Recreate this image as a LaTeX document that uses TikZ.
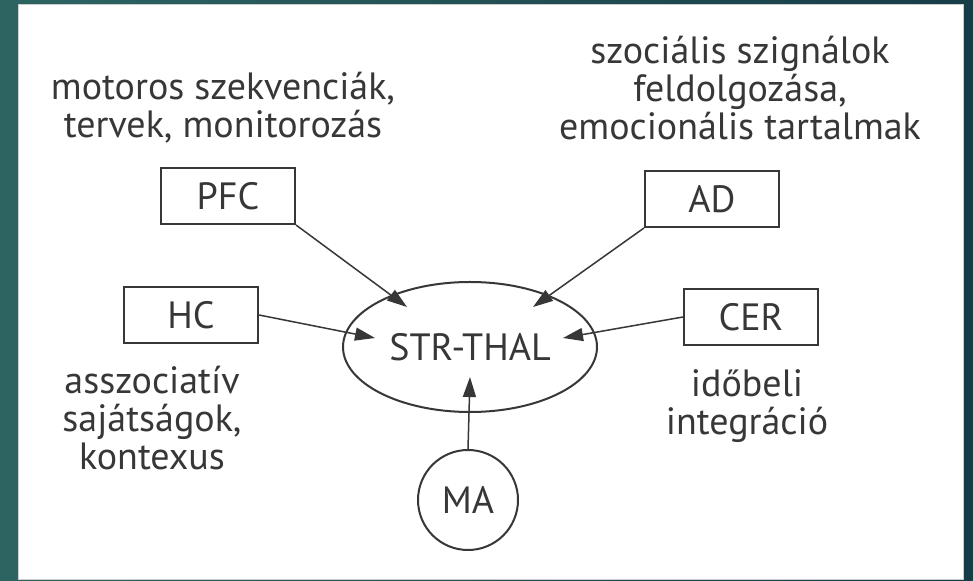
\documentclass[tikz,border=0pt]{standalone}
\usepackage{fontspec}
\setmainfont{PT Sans}
\usetikzlibrary{shapes,arrows.meta,positioning,calc}
\definecolor{bgleft}{RGB}{45,100,98}
\definecolor{bgright}{RGB}{22,60,72}
\definecolor{ink}{RGB}{55,55,55}

\begin{document}
\begin{tikzpicture}[x=0.5pt,y=-0.5pt,
    box/.style={draw=ink, line width=1pt, minimum width=67pt, minimum height=28pt, inner sep=0pt, text=ink, font=\fontsize{19}{19}\selectfont},
    note/.style={align=center, inner sep=0pt, text=ink, font=\fontsize{19}{19}\selectfont},
    arr/.style={draw=ink, line width=0.75pt, -{Triangle[length=10pt,width=6.5pt]}}]
    \useasboundingbox (0,0) rectangle (973,581);
    % background and white panel
    \fill[left color=bgleft, right color=bgright] (0,0) rectangle (973,581);
    \draw[fill=white, draw=black!20] (18,4) rectangle (963,579);
    % centre
    \node[draw=ink, line width=1pt, ellipse, minimum width=127pt, minimum height=65pt, inner sep=0pt, text=ink, font=\fontsize{19}{19}\selectfont] (str) at (470,347) {STR-THAL};
    % inputs
    \node[box] (pfc) at (228,196) {PFC};
    \node[box] (ad) at (712,199) {AD};
    \node[box] (hc) at (191,315) {HC};
    \node[box] (cer) at (751,317) {CER};
    \node[draw=ink, line width=1pt, circle, minimum size=50pt, inner sep=0pt, text=ink, font=\fontsize{19}{19}\selectfont] (ma) at (468,500) {MA};
    % descriptions (anchored at the baseline of the last line)
    \node[note, anchor=base] (pfctxt) at (223,138) {motoros szekvenciák,\\tervek, monitorozás};
    \node[note, anchor=base] (adtxt) at (740,140) {szociális szignálok\\feldolgozása,\\emocionális tartalmak};
    \node[note, anchor=base] (hctxt) at (152,470) {asszociatív\\sajátságok,\\kontexus};
    \node[note, anchor=base] (certxt) at (747,435) {időbeli\\integráció};
    % arrow ends inside the ellipse
    \coordinate (inpfc) at (407,307);
    \coordinate (inad) at (533,307);
    \coordinate (inhc) at (375,338);
    \coordinate (incer) at (563,338);
    \coordinate (inma) at (470,377);
    \draw[arr] (pfc.south east) -- (inpfc);
    \draw[arr] (ad.south west) -- (inad);
    \draw[arr] (hc.east) -- (inhc);
    \draw[arr] (cer.west) -- (incer);
    \draw[arr] (ma.north) -- (inma);
\end{tikzpicture}
\end{document}
